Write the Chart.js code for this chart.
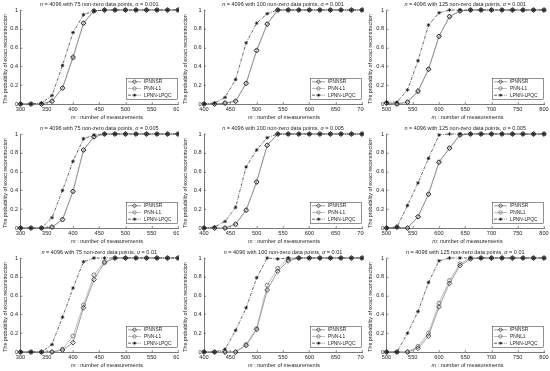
<!DOCTYPE html>
<html><head><meta charset="utf-8">
<script src="https://cdn.jsdelivr.net/npm/chart.js@4/dist/chart.umd.min.js"></script>
<style>
body{margin:0;background:#fff;width:550px;height:371px;overflow:hidden;position:relative}
canvas{position:absolute}
</style></head><body>
<script>
// measurement axes (m)
const mA = [300,320,340,360,380,400,420,440,460,480,500,520,540,560,580,600];
const mB = [400,420,440,460,480,500,520,540,560,580,600,620,640,660,680,700];
const mC = [500,520,540,560,580,600,620,640,660,680,700,720,740,760,780,800];
const yTicks = ['0','0.2','0.4','0.6','0.8','1'];
const seriesNames = ['IPNNSR','PNN-L1','LPNN-LPQC'];
const sparsity = [75,100,125];
const sigmas = ['0.001','0.005','0.01'];

// row 1 (sigma = 0.001)
const ip1 = [0,0,0,0.03,0.17,0.50,0.86,0.99,1,1,1,1,1,1,1,1];
const pn1 = [0,0,0,0.03,0.17,0.49,0.86,0.99,1,1,1,1,1,1,1,1];
const lp1 = [0,0,0.01,0.09,0.41,0.76,0.95,0.99,1,1,1,1,1,1,1,1];
const ip2 = [0,0,0.01,0.03,0.22,0.57,0.85,1,1,1,1,1,1,1,1,1];
const pn2 = [0,0,0.01,0.03,0.22,0.57,0.85,1,1,1,1,1,1,1,1,1];
const lp2 = [0,0.01,0.07,0.26,0.65,0.86,0.96,1,1,1,1,1,1,1,1,1];
const ip3 = [0.01,0,0.02,0.14,0.37,0.72,0.93,0.99,1,1,1,1,1,1,1,1];
const pn3 = [0.01,0,0.02,0.13,0.37,0.72,0.93,0.99,1,1,1,1,1,1,1,1];
const lp3 = [0.02,0.02,0.15,0.46,0.84,0.97,1,1,1,1,1,1,1,1,1,1];
// row 2 (sigma = 0.005)
const ip4 = [0,0,0,0.01,0.09,0.39,0.83,0.97,1,1,1,1,1,1,1,1];
const pn4 = [0,0,0,0.01,0.09,0.39,0.83,0.97,1,1,1,1,1,1,1,1];
const lp4 = [0,0,0,0.11,0.40,0.71,0.95,0.99,1,1,1,1,1,1,1,1];
const ip5 = [0,0,0,0.04,0.19,0.49,0.88,1,1,1,1,1,1,1,1,1];
const pn5 = [0,0,0,0.04,0.19,0.49,0.88,1,1,1,1,1,1,1,1,1];
const lp5 = [0,0.01,0.07,0.22,0.65,0.83,0.96,1,1,1,1,1,1,1,1,1];
const ip6 = [0,0.01,0,0.12,0.36,0.70,0.85,0.99,1,1,1,1,1,1,1,1];
const pn6 = [0,0.01,0,0.12,0.36,0.70,0.85,0.99,1,1,1,1,1,1,1,1];
const lp6 = [0,0.01,0.24,0.48,0.74,0.99,1,1,1,1,1,1,1,1,1,1];
// row 3 (sigma = 0.01)
const ip7 = [0,0,0,0,0.02,0.10,0.47,0.77,0.95,1,1,1,1,1,1,1];
const pn7 = [0,0,0,0,0.03,0.17,0.50,0.82,0.96,1,1,1,1,1,1,1];
const lp7 = [0,0,0,0.08,0.37,0.68,0.96,1,1,1,1,1,1,1,1,1];
const ip8 = [0,0,0,0,0.07,0.24,0.66,0.86,0.97,1,1,1,1,1,1,1];
const pn8 = [0,0,0,0,0.08,0.25,0.71,0.89,0.99,1,1,1,1,1,1,1];
const lp8 = [0,0,0.03,0.23,0.47,0.79,1,0.99,1,1,1,1,1,1,1,1];
const ip9 = [0,0,0,0.04,0.17,0.48,0.73,0.92,0.99,1,1,1,1,1,1,1];
const pn9 = [0,0,0,0.06,0.20,0.52,0.76,0.94,1,1,1,1,1,1,1,1];
const lp9 = [0,0,0.20,0.43,0.74,0.97,1,1,1,1,1,1,1,1,1,1];

const panels = [
  {m:mA,ip:ip1,pn:pn1,lp:lp1,r:0,c:0},{m:mB,ip:ip2,pn:pn2,lp:lp2,r:0,c:1},{m:mC,ip:ip3,pn:pn3,lp:lp3,r:0,c:2},
  {m:mA,ip:ip4,pn:pn4,lp:lp4,r:1,c:0},{m:mB,ip:ip5,pn:pn5,lp:lp5,r:1,c:1},{m:mC,ip:ip6,pn:pn6,lp:lp6,r:1,c:2,l1:'PNNL1',sep:': '},
  {m:mA,ip:ip7,pn:pn7,lp:lp7,r:2,c:0},{m:mB,ip:ip8,pn:pn8,lp:lp8,r:2,c:1},{m:mC,ip:ip9,pn:pn9,lp:lp9,r:2,c:2,l1:'PNNL1'}
];

// layout (pixels)
const colLeft = [0,183,366], colW = [179,181,184], yAxisW = [20.5,21,20.5], padR = [1,2,6];
const rowTop = [0,122,246], rowH = [122,124,125], plotTop = [10,12,12], xAxisH = [18,18,19];
const yLabX = [5.3,2.4,4.2], xLabX = [107,101,101.5];
const TXT = '#1f1f1f';
const FONT = '"Liberation Sans", Arial, sans-serif';

function richText(ctx, parts, cx, y, size){
  let w = 0;
  parts.forEach(p=>{ctx.font=(p.i?'italic ':'')+size+'px '+FONT; p.w=ctx.measureText(p.t).width; w+=p.w;});
  let x = cx - w/2;
  ctx.textAlign='left'; ctx.textBaseline='middle';
  parts.forEach(p=>{ctx.font=(p.i?'italic ':'')+size+'px '+FONT; ctx.fillText(p.t,x,y); x+=p.w;});
}

const deco = {
  id:'deco',
  afterDraw(chart){
    const o = chart.options.plugins.deco;
    const ctx = chart.ctx, ca = chart.chartArea, xs = chart.scales.x, ys = chart.scales.y;
    ctx.save();
    ctx.strokeStyle = TXT; ctx.lineWidth = 0.5;
    ctx.beginPath();
    xs.ticks.forEach(t=>{const px=Math.round(xs.getPixelForValue(t.value))+0.25; ctx.moveTo(px,ca.bottom); ctx.lineTo(px,ca.bottom-2);});
    ys.ticks.forEach(t=>{const py=Math.round(ys.getPixelForValue(t.value))+0.25; ctx.moveTo(ca.left,py); ctx.lineTo(ca.left+2,py);});
    ctx.stroke();
    ctx.fillStyle = TXT;
    // title
    richText(ctx,[{t:'n',i:true},{t:' = 4096 with '+o.n+' non-zero data points, '},{t:'σ',i:true},{t:' = '+o.s}],
      (ca.left+ca.right)/2 + o.tdx, ca.top-5.5, 5.5);
    // x label
    richText(ctx,[{t:'m',i:true},{t:o.sep+'number of measurements'}], o.xlx, ca.bottom+13, 5.5);
    // y label
    ctx.save();
    ctx.translate(o.ylx,(ca.top+ca.bottom)/2+2);
    ctx.rotate(-Math.PI/2);
    ctx.font='5.3px '+FONT; ctx.textAlign='center'; ctx.textBaseline='middle';
    ctx.fillText('The probability of exact reconstruction',0,0);
    ctx.restore();
    // legend
    const bw=51, bh=21, bx=ca.right-1-bw, by=ca.bottom-5-bh;
    ctx.fillStyle='#fff'; ctx.fillRect(bx,by,bw,bh);
    ctx.strokeStyle='#262626'; ctx.lineWidth=0.5; ctx.strokeRect(bx+0.25,by+0.25,bw,bh);
    chart.data.datasets.forEach((d,i)=>{
      const yy = by+3.8+i*6.7;
      ctx.save();
      ctx.strokeStyle=d.borderColor; ctx.lineWidth=d.borderWidth; ctx.setLineDash(d.borderDash||[]);
      ctx.beginPath(); ctx.moveTo(bx+2,yy); ctx.lineTo(bx+15,yy); ctx.stroke();
      ctx.restore();
      ctx.save();
      ctx.strokeStyle=d.pointBorderColor; ctx.fillStyle=d.pointBackgroundColor; ctx.lineWidth=d.pointBorderWidth;
      if (Chart.helpers && Chart.helpers.drawPoint) {
        Chart.helpers.drawPoint(ctx,{pointStyle:d.pointStyle,radius:d.pointRadius*0.85,rotation:0,borderWidth:d.pointBorderWidth},bx+8.5,yy);
      }
      ctx.restore();
      ctx.fillStyle=TXT; ctx.font='4.8px '+FONT; ctx.textAlign='left'; ctx.textBaseline='middle';
      ctx.fillText(d.label,bx+18,yy+0.3);
    });
    ctx.restore();
  }
};

panels.forEach(p=>{
  const cv = document.createElement('canvas');
  const W = colW[p.c], H = rowH[p.r];
  cv.width=W; cv.height=H;
  cv.style.left=colLeft[p.c]+'px'; cv.style.top=rowTop[p.r]+'px';
  cv.style.width=W+'px'; cv.style.height=H+'px';
  document.body.appendChild(cv);
  const yw=yAxisW[p.c], xh=xAxisH[p.r];
  const labels1 = p.l1 || seriesNames[1];
  const mk = (arr)=>arr.map((v,i)=>({x:p.m[i],y:v}));
  new Chart(cv,{
    type:'line',
    data:{datasets:[
      {label:seriesNames[0],data:mk(p.ip),borderColor:'#888888',borderWidth:0.8,pointStyle:'rectRot',pointRadius:2.4,
       pointBorderColor:'#1a1a1a',pointBackgroundColor:'rgba(255,255,255,0)',pointBorderWidth:0.75,clip:false,order:2},
      {label:labels1,data:mk(p.pn),borderColor:'#b0b0b0',borderWidth:0.8,pointStyle:'circle',pointRadius:2.0,
       pointBorderColor:'#666666',pointBackgroundColor:'rgba(255,255,255,0)',pointBorderWidth:0.75,clip:false,order:3},
      {label:seriesNames[2],data:mk(p.lp),borderColor:'#333333',borderWidth:0.75,borderDash:[3,1.2,0.8,1.2],pointStyle:'star',pointRadius:1.8,
       pointBorderColor:'#1a1a1a',pointBackgroundColor:'#1a1a1a',pointBorderWidth:0.75,clip:false,order:1}
    ]},
    options:{
      responsive:false, animation:false, devicePixelRatio:1,
      layout:{autoPadding:false,padding:{top:plotTop[p.r],right:padR[p.c],left:0,bottom:0}},
      elements:{line:{tension:0}},
      plugins:{legend:{display:false},title:{display:false},tooltip:{enabled:false},
        deco:{n:sparsity[p.c],s:sigmas[p.r],sep:p.sep||' : ',xlx:xLabX[p.c],ylx:yLabX[p.c],tdx:0}},
      scales:{
        x:{type:'linear',min:p.m[0],max:p.m[p.m.length-1],
          ticks:{stepSize:50,autoSkip:false,maxRotation:0,color:TXT,font:{size:5.6,family:FONT},padding:2},
          grid:{display:false,drawTicks:false},border:{display:true,color:TXT,width:0.6},
          afterFit(s){s.height=xh;s.paddingLeft=0;s.paddingRight=0;}},
        y:{min:0,max:1,
          ticks:{stepSize:0.2,color:TXT,font:{size:5.6,family:FONT},padding:2.5,callback:(v,i)=>yTicks[i]},
          grid:{display:false,drawTicks:false},border:{display:true,color:TXT,width:0.6},
          afterFit(s){s.width=yw;s.paddingTop=0;s.paddingBottom=0;}}
      }
    },
    plugins:[deco]
  });
});
</script>
</body></html>
